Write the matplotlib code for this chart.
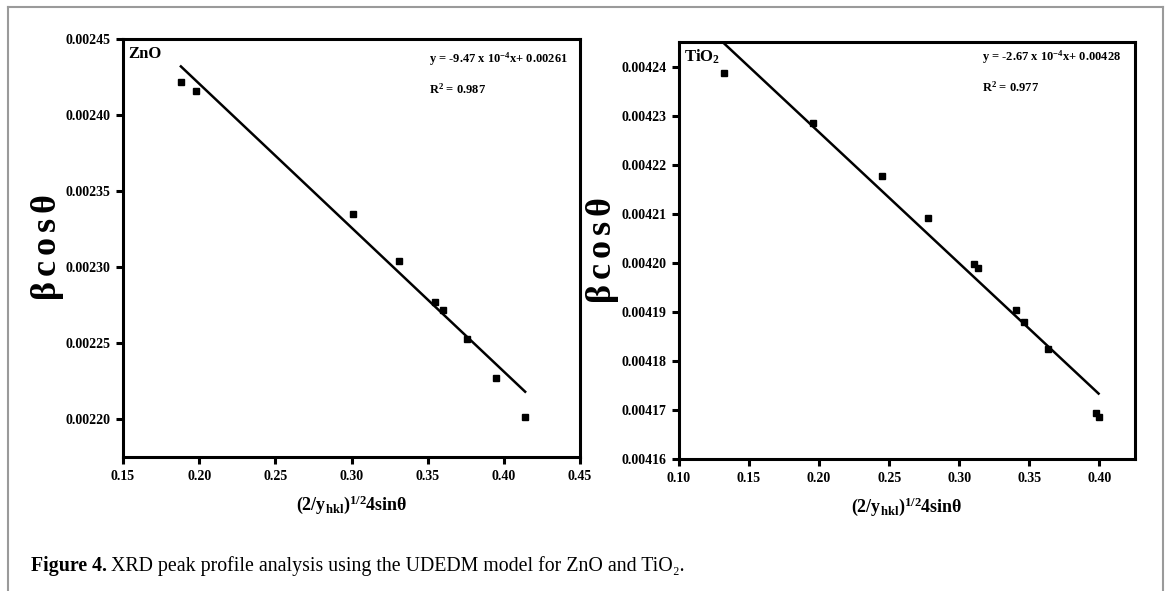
import numpy as np
import matplotlib
matplotlib.use("Agg")
import matplotlib.pyplot as plt
from matplotlib.lines import Line2D

# ZnO data
zno_x = [0.188, 0.198, 0.301, 0.331, 0.355, 0.360, 0.376, 0.395, 0.414]
zno_y = [0.002422, 0.002416, 0.002335, 0.002304, 0.002277, 0.0022715, 0.0022524, 0.0022272, 0.0022011]
zno_slope, zno_icpt = -9.47e-4, 0.00261

# TiO2 data
tio_x = [0.132, 0.1954, 0.245, 0.278, 0.3105, 0.3131, 0.3405, 0.3461, 0.3633, 0.3976, 0.3995]
tio_y = [0.0042386, 0.0042284, 0.0042176, 0.0042091, 0.0041997, 0.0041989, 0.0041903,
         0.004188, 0.0041824, 0.0041694, 0.0041686]
tio_slope, tio_icpt = -2.67e-4, 0.00428

zno_xticks = [0.15, 0.20, 0.25, 0.30, 0.35, 0.40, 0.45]
zno_yticks = [0.00220, 0.00225, 0.00230, 0.00235, 0.00240, 0.00245]
tio_xticks = [0.10, 0.15, 0.20, 0.25, 0.30, 0.35, 0.40]
tio_yticks = [0.00416, 0.00417, 0.00418, 0.00419, 0.00420, 0.00421, 0.00422, 0.00423, 0.00424]

plt.rcParams['font.family'] = ['Liberation Serif', 'DejaVu Serif']
plt.rcParams['mathtext.fontset'] = 'custom'
plt.rcParams['mathtext.rm'] = 'Liberation Serif:bold'
plt.rcParams['mathtext.bf'] = 'Liberation Serif:bold'
plt.rcParams['mathtext.it'] = 'Liberation Serif:bold'
plt.rcParams['mathtext.default'] = 'rm'

W, H = 1170, 591
fig = plt.figure(figsize=(W / 100, H / 100), dpi=100)


def box(l, t, r, b):
    return [l / W, 1 - b / H, (r - l) / W, (b - t) / H]


def panel(ax, x, y, slope, icpt, xlim, ylim, xticks, yticks, name, eq, r2, eqx, eqy):
    ax.plot(x, y, 's', color='black', markersize=4)
    xs = np.array([min(x), max(x)])
    ax.plot(xs, slope * xs + icpt, color='black', lw=1.8)
    ax.set_xlim(*xlim)
    ax.set_ylim(*ylim)
    ax.set_xticks(xticks)
    ax.set_yticks(yticks)
    ax.set_xticklabels([f"{v:.2f}" for v in xticks])
    ax.set_yticklabels([f"{v:.5f}" for v in yticks])
    for lab in ax.get_xticklabels() + ax.get_yticklabels():
        lab.set_fontweight('bold')
        lab.set_fontsize(10)
    ax.tick_params(direction='out', length=5, width=2.2, top=False, right=False, pad=4)
    for s in ax.spines.values():
        s.set_linewidth(2.2)
    ax.text(0.012, 0.965, name, transform=ax.transAxes, fontsize=12,
            fontweight='bold', va='center', ha='left')
    ax.text(eqx, eqy, eq, transform=ax.transAxes, fontsize=9,
            fontweight='bold', va='center', ha='left')
    ax.text(eqx, eqy - 0.072, r2, transform=ax.transAxes, fontsize=9,
            fontweight='bold', va='center', ha='left')
    ax.set_xlabel(r'$(2/y_{hkl})^{1/2}4sin\theta$', fontsize=13, labelpad=8)
    ax.set_ylabel(r'$\beta\,c\,o\,s\,\theta$', fontsize=26, labelpad=0)


ax1 = fig.add_axes(box(123, 39, 580, 457))
panel(ax1, zno_x, zno_y, zno_slope, zno_icpt, (0.15, 0.45), (0.002175, 0.00245),
      zno_xticks, zno_yticks, 'ZnO',
      r'y = -9.47 x 10$^{-4}$x+ 0.00261', r'R$^{2}$ = 0.987', 0.67, 0.952)

ax2 = fig.add_axes(box(679, 42, 1135, 459))
panel(ax2, tio_x, tio_y, tio_slope, tio_icpt, (0.10, 0.4255), (0.00416, 0.004245),
      tio_xticks, tio_yticks, r'TiO$_{2}$',
      r'y = -2.67 x 10$^{-4}$x+ 0.00428', r'R$^{2}$ = 0.977', 0.664, 0.964)

# page frame
grey = '#9a9a9a'
fig.add_artist(Line2D([8 / W, 8 / W], [0, 1 - 7 / H], color=grey, lw=1.5))
fig.add_artist(Line2D([8 / W, 1163 / W], [1 - 7 / H, 1 - 7 / H], color=grey, lw=1.5))
fig.add_artist(Line2D([1163 / W, 1163 / W], [0, 1 - 7 / H], color=grey, lw=1.5))

# caption
cap_y = 1 - 566 / H
t1 = fig.text(31 / W, cap_y, 'Figure 4.', fontsize=14.3, fontweight='bold', va='center')
fig.canvas.draw()
bb = t1.get_window_extent()
fig.text(bb.x1 / W + 4 / W, cap_y,
         'XRD peak profile analysis using the UDEDM model for ZnO and TiO\u2082.',
         fontsize=14.3, va='center')

fig.savefig('out.png', dpi=100)
